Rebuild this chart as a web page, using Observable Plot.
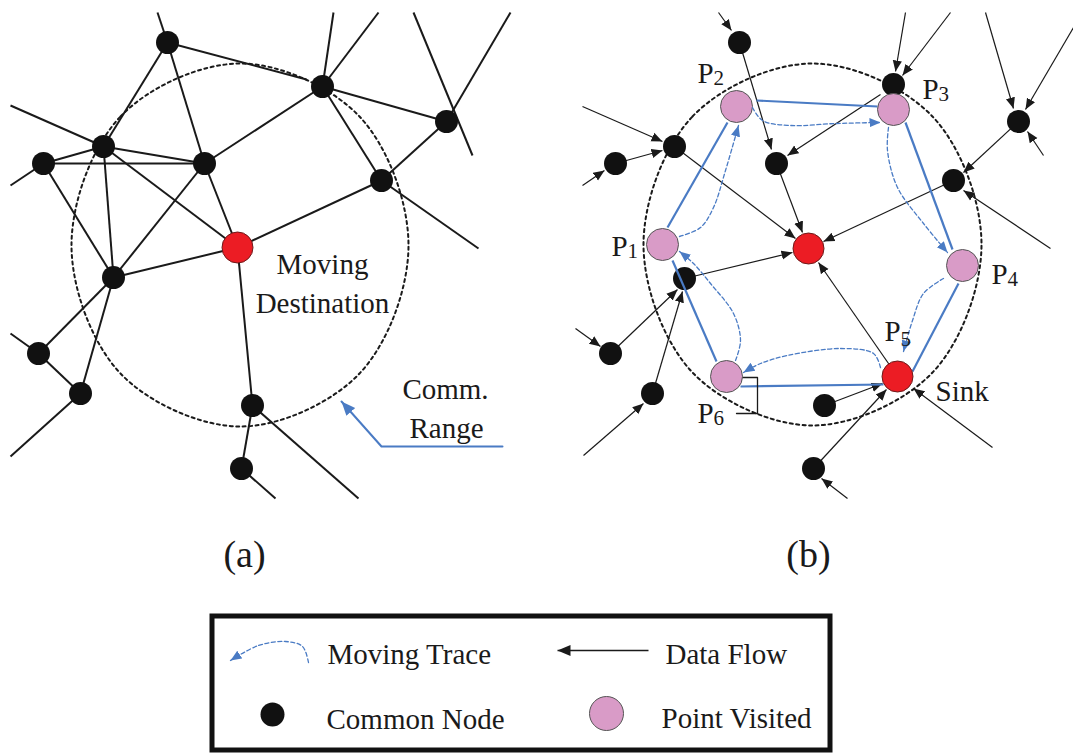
<!DOCTYPE html>
<html>
<head>
<meta charset="utf-8">
<script src="https://cdn.jsdelivr.net/npm/d3@7"></script>
<script src="https://cdn.jsdelivr.net/npm/@observablehq/plot@0.6"></script>
<style>
  html, body { margin: 0; padding: 0; background: white; }
  #chart svg { display: block; }
</style>
</head>
<body>
<div id="chart"></div>
<script>
// ---- Data (pixel-space coordinates) ----
// Dotted communication-range outlines (points on each outline)
const ellipseA = [[71,245],[120,116],[240,63],[359,116],[408,245],[359,373],[240,426],[120,373]];
const ellipseB = [[643,244],[692,116],[812,63],[932,116],[981,244],[932,372],[812,425],[692,372]];

// Panel (a): common nodes and links
const nodesA = [[167,42],[322,86],[446,121],[103,146],[43,163],[204,163],[381,180],[113,277],[38,353],[80,393],[252,405],[241,468]];
const edgesA = [
  [157,12,167,42],[167,42,306,79],[167,42,103,146],[167,42,204,163],
  [322,86,333,12],[322,86,378,12],[322,86,446,121],[322,86,204,163],[322,86,381,180],
  [413,12,472,155],[446,121,510,12],[446,121,381,180],[381,180,478,248],
  [10,105,103,146],[103,146,43,163],[43,163,10,185],[43,163,204,163],[103,146,204,163],
  [103,146,237,247],[103,146,113,277],[43,163,113,277],[113,277,204,163],[113,277,237,247],
  [204,163,237,247],[237,247,381,180],[237,247,252,405],
  [113,277,38,353],[113,277,80,393],[38,353,10,333],[38,353,80,393],[80,393,10,456],
  [252,405,241,468],[252,405,358,498],[241,468,275,498]
];

// Panel (b): common nodes, data-flow arrows
const nodesB = [[739,42],[893,84],[674,146],[615,163],[776,163],[1018,121],[953,180],[684,278],[610,353],[652,393],[824,405],[813,468]];
const flowsB = [
  [718,12,731,30],[739,42,771,149],[776,163,802,232],[880,94,787,155],
  [905,12,895,71],[950,12,902,75],[985,12,1013,108],[1073,27,1025,109],[1043,155,1027,131],
  [1018,121,963,172],[1050,248,963,190],[953,180,823,241],
  [582,106,662,141],[615,163,662,150],[582,185,604,170],[674,146,795,238],
  [684,278,792,252],[610,353,677,289],[575,328,600,346],[652,393,682,291],[583,455,643,403],
  [897,376,818,262],[824,405,882,383],[813,468,886,389],[847,498,821,478],[992,447,913,388]
];

// Moving destinations
const redNodes = [[237,247],[808,248],[897,376]];
const pinkNodes = [[662,244],[736,106],[893,109],[962,265],[726,376]];

// Blue solid tour and the small bracket at P6
const tourB = [[667,227,727,122],[756,100,877,106],[905,122,952,249],[958,283,912,371],[883,384,740,386],[716,361,672,260]];
const bracketB = [[740,377],[757,377],[757,413],[736,413]];

// Dashed moving traces (each list is one curve, arrow at the end)
const traces = [
  [[679,236],[700,227],[713,207],[725,170],[738,125]],
  [[752,107],[762,120],[790,125],[835,123],[880,122]],
  [[888,127],[887,150],[897,187],[923,223],[947,252]],
  [[943,278],[923,293],[912,320],[903,351]],
  [[880,367],[873,353],[840,348],[787,355],[760,363],[743,372]],
  [[735,360],[740,340],[733,313],[710,283],[693,263],[679,251]],
  [[308,662],[302,646],[285,641],[258,645],[230,660]]   // legend sample
];

// Comm. Range pointer
const rangePointer = [[502,446],[381,446],[341,401]];

// Labels
const centerLabels = [
  {t:"Moving", x:322, y:273},
  {t:"Destination", x:322, y:312},
  {t:"Comm.", x:445, y:398},
  {t:"Range", x:446, y:437}
];
const sinkLabel = [{t:"Sink", x:935, y:400}];
const panelLabels = [{t:"(a)", x:244, y:566}, {t:"(b)", x:808, y:566}];
const pLetters = [[611,255],[697,82],[922,98],[991,283],[884,340],[697,422]];
const pDigits = [["1",627,257],["2",713,84],["3",938,100],["4",1007,285],["5",900,345],["6",713,424]];

// Legend
const legendBox = [{x1:212, y1:616, x2:830, y2:750}];
const legendTexts = [
  {t:"Moving Trace", x:327, y:663},
  {t:"Data Flow", x:665, y:663},
  {t:"Common Node", x:326, y:728},
  {t:"Point Visited", x:661, y:727}
];
const legendArrow = [[648,650,557,650]];
const legendBlack = [[272,714]];
const legendPink = [[606,713]];

// ---- Styles ----
const BLUE = "#4a7bc4", PINK = "#d99bc7", RED = "#ec1c24", INK = "#1a1a1a";
const FS = 29;

function triMarker(size) {
  return (color) => {
    const ns = "http://www.w3.org/2000/svg";
    const m = document.createElementNS(ns, "marker");
    m.setAttribute("viewBox", "-10 -5 10 10");
    m.setAttribute("refX", "0");
    m.setAttribute("refY", "0");
    m.setAttribute("markerWidth", size);
    m.setAttribute("markerHeight", size);
    m.setAttribute("markerUnits", "userSpaceOnUse");
    m.setAttribute("orient", "auto");
    const p = document.createElementNS(ns, "path");
    p.setAttribute("d", "M0,0L-10,-4.2L-10,4.2Z");
    p.setAttribute("fill", color);
    p.setAttribute("stroke", "none");
    m.appendChild(p);
    return m;
  };
}

const traceRows = traces.flatMap((pts, k) => pts.map(([x, y]) => ({x, y, k})));
const bracketRows = bracketB.map(([x, y]) => ({x, y}));
const rangeRows = rangePointer.map(([x, y]) => ({x, y}));

const X = d => d[0], Y = d => d[1];

const chart = Plot.plot({
  width: 1073,
  height: 753,
  margin: 0,
  x: {domain: [0, 1073], range: [0, 1073], axis: null},
  y: {domain: [0, 753], range: [0, 753], axis: null},
  style: {fontFamily: "'Liberation Serif', 'Times New Roman', serif", background: "white"},
  marks: [
    // comm. range outlines
    Plot.line(ellipseA, {x: X, y: Y, curve: "catmull-rom-closed", stroke: INK, strokeWidth: 2, strokeDasharray: "3,3.5"}),
    Plot.line(ellipseB, {x: X, y: Y, curve: "catmull-rom-closed", stroke: INK, strokeWidth: 2, strokeDasharray: "3,3.5"}),
    // panel (a) links
    Plot.link(edgesA, {x1: d => d[0], y1: d => d[1], x2: d => d[2], y2: d => d[3], stroke: INK, strokeWidth: 2}),
    // panel (b) data flow
    Plot.link(flowsB, {x1: d => d[0], y1: d => d[1], x2: d => d[2], y2: d => d[3], stroke: INK, strokeWidth: 1.2, markerEnd: triMarker(11)}),
    // black nodes
    Plot.dot(nodesA, {x: X, y: Y, r: 11.5, fill: "#111", stroke: "none"}),
    Plot.dot(nodesB, {x: X, y: Y, r: 11.5, fill: "#111", stroke: "none"}),
    // blue tour
    Plot.link(tourB, {x1: d => d[0], y1: d => d[1], x2: d => d[2], y2: d => d[3], stroke: BLUE, strokeWidth: 2.2}),
    Plot.line(bracketRows, {x: "x", y: "y", stroke: INK, strokeWidth: 1.3}),
    // visited points and destinations
    Plot.dot(pinkNodes, {x: X, y: Y, r: 16, fill: PINK, stroke: "#555", strokeWidth: 1}),
    Plot.dot(redNodes, {x: X, y: Y, r: 15.5, fill: RED, stroke: "#6b1a1a", strokeWidth: 1}),
    // dashed moving traces
    Plot.line(traceRows, {x: "x", y: "y", z: "k", curve: "catmull-rom", stroke: BLUE, strokeWidth: 1.3, strokeDasharray: "4,2.5", markerEnd: triMarker(11)}),
    // comm range pointer
    Plot.line(rangeRows, {x: "x", y: "y", stroke: BLUE, strokeWidth: 2, markerEnd: triMarker(14)}),
    // labels
    Plot.text(centerLabels, {x: "x", y: "y", text: "t", textAnchor: "middle", fontSize: FS, lineAnchor: "bottom", fill: INK}),
    Plot.text(sinkLabel, {x: "x", y: "y", text: "t", textAnchor: "start", fontSize: FS, lineAnchor: "bottom", fill: INK}),
    Plot.text(panelLabels, {x: "x", y: "y", text: "t", textAnchor: "middle", fontSize: 38, lineAnchor: "bottom", fill: INK}),
    Plot.text(pLetters, {x: X, y: Y, text: () => "P", textAnchor: "start", fontSize: FS, lineAnchor: "bottom", fill: INK}),
    Plot.text(pDigits, {x: d => d[1], y: d => d[2], text: d => d[0], textAnchor: "start", fontSize: 21, lineAnchor: "bottom", fill: INK}),
    // legend
    Plot.rect(legendBox, {x1: "x1", y1: "y1", x2: "x2", y2: "y2", fill: "none", stroke: "#111", strokeWidth: 5}),
    Plot.link(legendArrow, {x1: d => d[0], y1: d => d[1], x2: d => d[2], y2: d => d[3], stroke: INK, strokeWidth: 1.3, markerEnd: triMarker(13)}),
    Plot.dot(legendBlack, {x: X, y: Y, r: 12, fill: "#111", stroke: "none"}),
    Plot.dot(legendPink, {x: X, y: Y, r: 17, fill: PINK, stroke: "#555", strokeWidth: 1}),
    Plot.text(legendTexts, {x: "x", y: "y", text: "t", textAnchor: "start", fontSize: FS, lineAnchor: "bottom", fill: INK})
  ]
});
document.getElementById("chart").appendChild(chart);
</script>
</body>
</html>
